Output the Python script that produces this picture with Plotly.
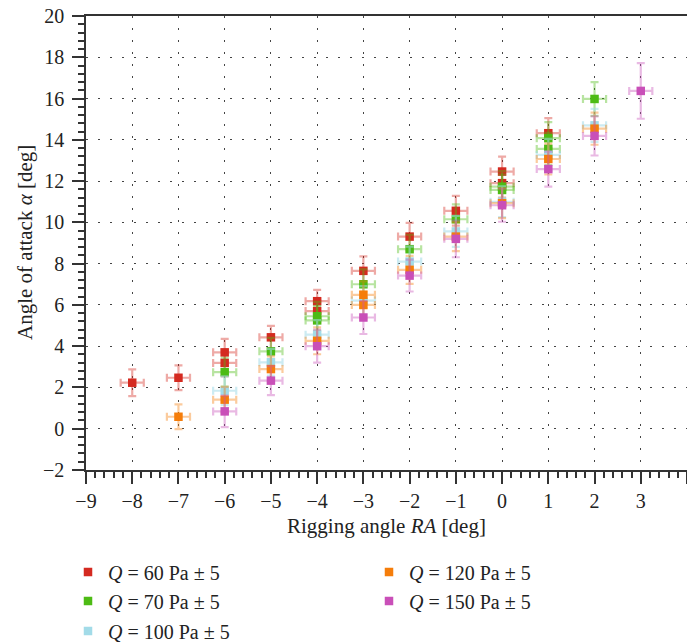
import plotly.graph_objects as go

# ---- data ----
names = ["<i>Q</i> = 60 Pa ± 5", "<i>Q</i> = 70 Pa ± 5", "<i>Q</i> = 100 Pa ± 5",
         "<i>Q</i> = 120 Pa ± 5", "<i>Q</i> = 150 Pa ± 5"]

q60_x = [-8, -7, -6, -6, -5, -4, -4, -3, -2, -1, 0, 0, 1]
q60_y = [2.23, 2.47, 3.70, 3.19, 4.43, 6.18, 5.70, 7.65, 9.31, 10.56, 12.46, 11.90, 14.32]
q60_e = [0.65, 0.60, 0.65, 0.65, 0.55, 0.55, 0.55, 0.70, 0.67, 0.72, 0.73, 0.70, 0.73]

q70_x = [-6, -5, -4, -4, -3, -2, -1, 0, 0, 1, 1, 2]
q70_y = [2.74, 3.75, 5.45, 5.25, 7.00, 8.70, 10.15, 11.73, 11.57, 14.08, 13.56, 15.98]
q70_e = [0.70, 0.65, 0.70, 0.70, 0.72, 0.70, 0.72, 0.75, 0.75, 0.78, 0.78, 0.82]

q100_x = [-6, -5, -4, -3, -2, -1, 0, 1, 2]
q100_y = [1.84, 3.22, 4.56, 6.21, 8.10, 9.56, 11.00, 13.27, 14.70]
q100_e = [0.70, 0.65, 0.70, 0.70, 0.72, 0.75, 0.75, 0.78, 0.80]

q120_x = [-7, -6, -5, -4, -3, -3, -2, -1, 0, 1, 2]
q120_y = [0.58, 1.41, 2.89, 4.26, 6.49, 6.00, 7.70, 9.31, 10.93, 13.07, 14.54]
q120_e = [0.60, 0.62, 0.62, 0.65, 0.65, 0.65, 0.68, 0.70, 0.72, 0.75, 0.78]

q150_x = [-6, -5, -4, -3, -2, -1, 0, 1, 2, 3]
q150_y = [0.84, 2.33, 4.00, 5.39, 7.42, 9.20, 10.83, 12.58, 14.19, 16.37]
q150_e = [0.76, 0.70, 0.80, 0.80, 0.77, 0.89, 0.80, 0.85, 0.95, 1.35]

x_err = 0.25

x_title = "Rigging angle <i>RA</i> [deg]"
y_title = "Angle of attack <i>α</i> [deg]"

colors = ["#d42a20", "#4dbb14", "#a2dbe8", "#f57d0a", "#c94fb8"]
bar_colors = ["rgba(212,42,32,0.4)", "rgba(77,187,20,0.4)", "rgba(162,219,232,0.55)",
              "rgba(245,125,10,0.4)", "rgba(201,79,184,0.4)"]

series = [(q60_x, q60_y, q60_e), (q70_x, q70_y, q70_e), (q100_x, q100_y, q100_e),
          (q120_x, q120_y, q120_e), (q150_x, q150_y, q150_e)]

FONT = "Liberation Serif"
W, H = 687, 644
L, R, T, B = 86, 0, 16, 174
PW, PH = W - L - R, H - T - B

fig = go.Figure()
legend_ids = ["legend", "legend2", "legend3", "legend4", "legend5"]
for i, (xs, ys, es) in enumerate(series):
    fig.add_trace(go.Scatter(
        x=xs, y=ys, mode="markers", name=names[i],
        marker=dict(symbol="square", size=8.5, color=colors[i]),
        error_y=dict(type="data", array=es, color=bar_colors[i], thickness=2.2, width=4),
        error_x=dict(type="constant", value=x_err, color=bar_colors[i], thickness=2.2, width=4),
        legend=legend_ids[i], showlegend=True,
    ))

# legend placement (two columns, column-major)
pos = [(68, 572), (68, 601), (68, 631), (369, 572), (369, 601)]
leg_layout = {}
for lid, (px, py) in zip(legend_ids, pos):
    leg_layout[lid] = dict(
        x=px / W, y=1 - py / H, xref="container", yref="container",
        xanchor="left", yanchor="middle", bgcolor="rgba(0,0,0,0)",
        font=dict(family=FONT, size=20, color="#222"),
        visible=True,
    )

axis_common = dict(
    showline=True, linecolor="#333", linewidth=1.5, mirror=True,
    ticks="outside", tickcolor="#333", tickwidth=1.5, ticklen=12,
    showgrid=True, gridcolor="#444", gridwidth=1.3, griddash="1.5px,10.5px",
    zeroline=False,
    tickfont=dict(family=FONT, size=20, color="#222"),
    automargin=False,
)

fig.update_layout(
    width=W, height=H, showlegend=True,
    margin=dict(l=L, r=R, t=T, b=B, autoexpand=False),
    plot_bgcolor="white", paper_bgcolor="white",
    xaxis=dict(
        range=[-9, 4], dtick=1, tick0=0, ticklabelstandoff=0,
        minor=dict(dtick=0.2, ticks="outside", ticklen=6, tickcolor="#333", tickwidth=1.5, showgrid=False),
        **axis_common,
    ),
    yaxis=dict(
        range=[-2, 20], dtick=2, tick0=0, ticklabelstandoff=4,
        minor=dict(dtick=0.4, ticks="outside", ticklen=6, tickcolor="#333", tickwidth=1.5, showgrid=False),
        **axis_common,
    ),
    annotations=[
        dict(text=x_title, xref="paper", yref="paper", x=0.5, y=(PH - (526 - T)) / PH,
             xanchor="center", yanchor="middle", showarrow=False,
             font=dict(family=FONT, size=21, color="#222")),
        dict(text=y_title, xref="paper", yref="paper", x=(25 - L) / PW, y=0.5, textangle=-90,
             xanchor="center", yanchor="middle", showarrow=False,
             font=dict(family=FONT, size=21, color="#222")),
    ],
    **leg_layout,
)

fig.write_html("out.html")
